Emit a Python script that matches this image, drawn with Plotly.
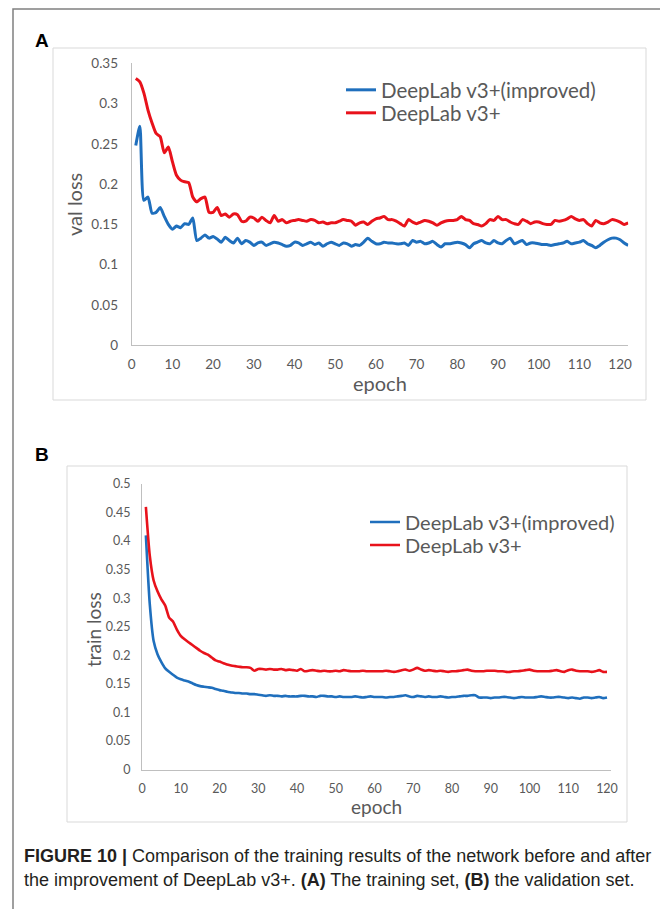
import plotly.graph_objects as go

# ---------------- data ----------------
val_improved = [0.248, 0.272, 0.180, 0.184, 0.164, 0.165, 0.171, 0.160, 0.150, 0.144,
                0.148, 0.146, 0.151, 0.150, 0.158, 0.130, 0.133, 0.137, 0.133, 0.135,
                0.132, 0.128, 0.134, 0.130, 0.127, 0.133, 0.126, 0.130, 0.128, 0.124,
                0.127, 0.128, 0.124, 0.126, 0.128, 0.127, 0.125, 0.123, 0.124, 0.128,
                0.127, 0.124, 0.126, 0.128, 0.125, 0.127, 0.123, 0.126, 0.128, 0.126,
                0.124, 0.127, 0.126, 0.123, 0.125, 0.124, 0.128, 0.133, 0.129, 0.126,
                0.126, 0.128, 0.127, 0.127, 0.126, 0.126, 0.127, 0.124, 0.130, 0.128,
                0.129, 0.126, 0.127, 0.129, 0.125, 0.122, 0.126, 0.126, 0.127, 0.128,
                0.127, 0.125, 0.121, 0.126, 0.128, 0.130, 0.127, 0.126, 0.130, 0.127,
                0.126, 0.130, 0.133, 0.126, 0.128, 0.130, 0.125, 0.127, 0.127, 0.126,
                0.125, 0.125, 0.124, 0.125, 0.126, 0.127, 0.129, 0.126, 0.127, 0.128,
                0.130, 0.126, 0.124, 0.121, 0.124, 0.128, 0.131, 0.133, 0.133, 0.131,
                0.127, 0.124]
val_base = [0.331, 0.327, 0.313, 0.292, 0.276, 0.263, 0.259, 0.239, 0.246, 0.228,
            0.211, 0.205, 0.203, 0.202, 0.184, 0.178, 0.182, 0.184, 0.165, 0.165,
            0.171, 0.161, 0.163, 0.159, 0.163, 0.162, 0.154, 0.154, 0.159, 0.158,
            0.154, 0.159, 0.155, 0.152, 0.161, 0.154, 0.156, 0.152, 0.154, 0.155,
            0.156, 0.155, 0.154, 0.156, 0.155, 0.152, 0.153, 0.151, 0.152, 0.152,
            0.154, 0.156, 0.155, 0.154, 0.149, 0.152, 0.153, 0.150, 0.154, 0.157,
            0.158, 0.160, 0.156, 0.156, 0.154, 0.151, 0.148, 0.156, 0.153, 0.151,
            0.153, 0.155, 0.154, 0.152, 0.149, 0.152, 0.154, 0.155, 0.155, 0.156,
            0.160, 0.156, 0.155, 0.151, 0.150, 0.148, 0.151, 0.156, 0.155, 0.160,
            0.156, 0.156, 0.153, 0.151, 0.150, 0.156, 0.154, 0.151, 0.153, 0.153,
            0.151, 0.150, 0.150, 0.155, 0.154, 0.155, 0.157, 0.160, 0.157, 0.155,
            0.156, 0.151, 0.148, 0.155, 0.152, 0.151, 0.153, 0.156, 0.155, 0.153,
            0.150, 0.152]

train_improved = [0.410, 0.290, 0.225, 0.202, 0.188, 0.177, 0.171, 0.166, 0.161, 0.158,
                  0.156, 0.154, 0.151, 0.148, 0.146, 0.145, 0.144, 0.143, 0.141, 0.139,
                  0.138, 0.136, 0.135, 0.134, 0.134, 0.133, 0.133, 0.132, 0.132, 0.131,
                  0.130, 0.129, 0.130, 0.129, 0.129, 0.128, 0.129, 0.128, 0.128, 0.128,
                  0.129, 0.129, 0.128, 0.128, 0.127, 0.129, 0.129, 0.128, 0.128, 0.127,
                  0.128, 0.127, 0.127, 0.127, 0.128, 0.127, 0.126, 0.127, 0.128, 0.127,
                  0.127, 0.127, 0.126, 0.127, 0.127, 0.128, 0.129, 0.130, 0.128, 0.127,
                  0.129, 0.128, 0.127, 0.128, 0.127, 0.127, 0.128, 0.127, 0.126, 0.127,
                  0.127, 0.128, 0.129, 0.129, 0.130, 0.130, 0.126, 0.126, 0.126, 0.125,
                  0.126, 0.126, 0.127, 0.127, 0.126, 0.125, 0.126, 0.127, 0.126, 0.126,
                  0.126, 0.127, 0.128, 0.127, 0.126, 0.126, 0.127, 0.127, 0.126, 0.125,
                  0.126, 0.125, 0.124, 0.126, 0.126, 0.125, 0.126, 0.127, 0.125, 0.126]
train_base = [0.460, 0.375, 0.331, 0.312, 0.298, 0.287, 0.266, 0.259, 0.245, 0.234,
              0.228, 0.223, 0.218, 0.213, 0.208, 0.204, 0.201, 0.196, 0.191, 0.189,
              0.186, 0.184, 0.182, 0.181, 0.180, 0.179, 0.179, 0.178, 0.173, 0.176,
              0.176, 0.175, 0.176, 0.175, 0.175, 0.176, 0.174, 0.175, 0.174, 0.173,
              0.176, 0.172, 0.173, 0.174, 0.173, 0.172, 0.173, 0.172, 0.172, 0.173,
              0.172, 0.174, 0.173, 0.172, 0.172, 0.172, 0.173, 0.172, 0.172, 0.172,
              0.172, 0.172, 0.173, 0.172, 0.171, 0.172, 0.174, 0.175, 0.173, 0.175,
              0.178, 0.175, 0.173, 0.174, 0.173, 0.172, 0.173, 0.172, 0.171, 0.172,
              0.172, 0.173, 0.174, 0.175, 0.173, 0.172, 0.172, 0.172, 0.173, 0.173,
              0.173, 0.172, 0.172, 0.171, 0.171, 0.172, 0.172, 0.173, 0.174, 0.175,
              0.173, 0.172, 0.172, 0.172, 0.172, 0.173, 0.174, 0.172, 0.171, 0.174,
              0.175, 0.173, 0.172, 0.172, 0.172, 0.171, 0.172, 0.174, 0.171, 0.171]

epochs_a = list(range(1, len(val_base) + 1))
epochs_b = list(range(1, len(train_base) + 1))
x_ticks = [0, 10, 20, 30, 40, 50, 60, 70, 80, 90, 100, 110, 120]
y_ticks_a = [0, 0.05, 0.1, 0.15, 0.2, 0.25, 0.3, 0.35]
y_ticks_b = [0, 0.05, 0.1, 0.15, 0.2, 0.25, 0.3, 0.35, 0.4, 0.45, 0.5]
name_imp = "DeepLab v3+(improved)"
name_base = "DeepLab v3+"

# ---------------- styling ----------------
W, H = 668, 909
OFF = 8  # page body margin offset
BLUE = "#1f6fbd"
RED = "#e8121b"
GREY_TXT = "#595959"
FONT = "Lato, 'Open Sans', sans-serif"


def px(x):
    return (x - OFF) / W


def py(y):
    return 1 - (y - OFF) / H


def ln(color, width):
    return dict(color=color, width=width, shape="spline", smoothing=0.6)


fig = go.Figure()
fig.add_trace(go.Scatter(x=epochs_a, y=val_improved, name=name_imp, mode="lines",
                         line=ln(BLUE, 3), xaxis="x", yaxis="y", legend="legend"))
fig.add_trace(go.Scatter(x=epochs_a, y=val_base, name=name_base, mode="lines",
                         line=ln(RED, 3), xaxis="x", yaxis="y", legend="legend2"))
fig.add_trace(go.Scatter(x=epochs_b, y=train_improved, name=name_imp, mode="lines",
                         line=ln(BLUE, 2.6), xaxis="x2", yaxis="y2", legend="legend3"))
fig.add_trace(go.Scatter(x=epochs_b, y=train_base, name=name_base, mode="lines",
                         line=ln(RED, 2.6), xaxis="x2", yaxis="y2", legend="legend4"))


def axis_style(size):
    return dict(showgrid=False, zeroline=False, showline=True, linecolor="#bfbfbf",
                linewidth=1, ticks="", automargin=False,
                tickfont=dict(family=FONT, size=size, color=GREY_TXT))


ax_x0, ax_k = 131.7, 4.07
bx_x0, bx_k = 142.0, 3.875
fig.update_layout(
    template="none",
    xaxis=dict(axis_style(13.5), domain=[px(ax_x0), px(ax_x0 + 122 * ax_k)], range=[0, 122],
               tickvals=x_ticks, anchor="y", ticklabelstandoff=6),
    yaxis=dict(axis_style(13.5), domain=[py(345.3), py(63.3)], range=[0, 0.35],
               tickvals=y_ticks_a, ticktext=[f"{v:g}" for v in y_ticks_a], anchor="x",
               ticklabelstandoff=10),
    xaxis2=dict(axis_style(12.5), domain=[px(bx_x0), px(bx_x0 + 121 * bx_k)], range=[0, 121],
                tickvals=x_ticks, anchor="y2", ticklabelstandoff=7),
    yaxis2=dict(axis_style(12.5), domain=[py(769.5), py(484)], range=[0, 0.5],
                tickvals=y_ticks_b, ticktext=[f"{v:g}" for v in y_ticks_b], anchor="x2",
                ticklabelstandoff=8),
)


def leg(x, y, size):
    return dict(x=px(x), y=py(y), xanchor="left", yanchor="middle",
                font=dict(family=FONT, size=size, color=GREY_TXT),
                bgcolor="rgba(0,0,0,0)", borderwidth=0, itemwidth=30)


fig.update_layout(
    width=W, height=H,
    margin=dict(l=0, r=0, t=0, b=0, pad=0),
    paper_bgcolor="white", plot_bgcolor="white",
    showlegend=True,
    legend=leg(341, 90, 20.5),
    legend2=leg(341, 113, 20.5),
    legend3=leg(365, 522, 20),
    legend4=leg(365, 545, 20),
)

shapes = [
    dict(type="rect", xref="paper", yref="paper", x0=px(13), x1=px(666), y0=py(930), y1=py(9),
         line=dict(color="#808080", width=1.5), fillcolor="rgba(0,0,0,0)", layer="below"),
    dict(type="rect", xref="paper", yref="paper", x0=px(53), x1=px(646), y0=py(400), y1=py(48),
         line=dict(color="#d9d9d9", width=1), fillcolor="rgba(0,0,0,0)", layer="below"),
    dict(type="rect", xref="paper", yref="paper", x0=px(67), x1=px(627), y0=py(822), y1=py(466),
         line=dict(color="#d9d9d9", width=1), fillcolor="rgba(0,0,0,0)", layer="below"),
]
fig.update_layout(shapes=shapes)


def note(text, x, y, size, color=GREY_TXT, family=FONT, angle=0, xanchor="center"):
    return dict(text=text, x=px(x), y=py(y), xref="paper", yref="paper", textangle=angle,
                xanchor=xanchor, yanchor="middle", showarrow=False,
                font=dict(family=family, size=size, color=color))


ann = [
    note("<b>A</b>", 41.5, 40, 19, "black", "Liberation Sans, Arial"),
    note("<b>B</b>", 41.5, 454, 19, "black", "Liberation Sans, Arial"),
    note("val loss", 74, 205, 20, angle=-90),
    note("epoch", 380, 383, 20),
    note("train loss", 93, 630, 19, angle=-90),
    note("epoch", 376, 806, 19),
]
cap_family = "'Liberation Sans Narrow', 'Arial Narrow', 'Liberation Sans', Arial"
ann.append(note("<b>FIGURE 10 |</b> Comparison of the training results of the network before and after",
                22, 856, 18, "#231f20", cap_family, xanchor="left"))
ann.append(note("the improvement of DeepLab v3+. <b>(A)</b> The training set, <b>(B)</b> the validation set.",
                22, 880, 18, "#231f20", cap_family, xanchor="left"))
fig.update_layout(annotations=ann)

fig.write_html("out.html")
